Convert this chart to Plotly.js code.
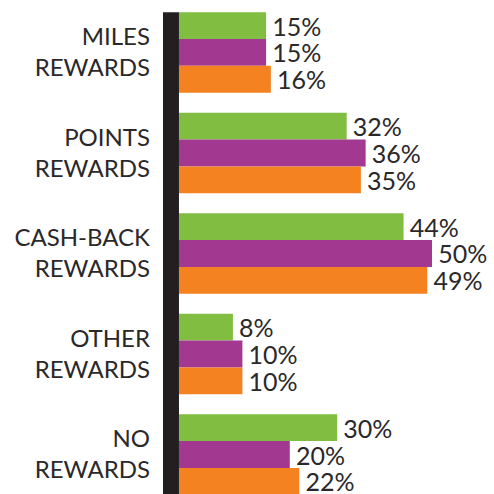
<!DOCTYPE html>
<html>
<head>
<meta charset="utf-8">
<script src="https://cdn.plot.ly/plotly-3.0.1.min.js"></script>
<style>html,body{margin:0;padding:0;background:#fff;}#chart{width:494px;height:494px;}</style>
</head>
<body>
<div id="chart"></div>
<script>
var categories = ["MILES<br>REWARDS", "POINTS<br>REWARDS", "CASH-BACK<br>REWARDS", "OTHER<br>REWARDS", "NO<br>REWARDS"];
var seriesGreen = [15, 32, 44, 8, 30];
var seriesPurple = [15, 36, 50, 10, 20];
var seriesOrange = [16, 35, 49, 10, 22];
var colors = ["#80bd41", "#a2388f", "#f48221"];

var BASE = -3.38;
function mk(vals, color) {
  return {
    type: "bar", orientation: "h",
    y: categories.map(function(c, i){ return i; }),
    x: vals.map(function(v){ return v - BASE; }),
    base: BASE,
    marker: {color: color, line: {width: 0}},
    text: vals.map(function(v){ return "\u2009" + v + "%"; }),
    textposition: "outside",
    constraintext: "none",
    cliponaxis: false,
    textfont: {family: "Lato, sans-serif", size: 25, color: "#2b2829"},
    hoverinfo: "none"
  };
}
var data = [mk(seriesGreen, colors[0]), mk(seriesPurple, colors[1]), mk(seriesOrange, colors[2])];

var layout = {
  width: 494, height: 494,
  margin: {l: 163, r: 0, t: 0, b: 0},
  paper_bgcolor: "#fff", plot_bgcolor: "#fff",
  barmode: "group", bargap: 0.2, bargroupgap: 0,
  showlegend: false,
  xaxis: {range: [-6.75, 63.08], visible: false, fixedrange: true},
  yaxis: {
    range: [4.393, -0.522],
    tickmode: "array",
    tickvals: categories.map(function(c, i){ return i; }),
    ticktext: categories,
    showgrid: false, zeroline: false, showline: false, ticks: "",
    ticklabelstandoff: 12,
    tickfont: {family: "Lato, sans-serif", size: 24, color: "#2b2829"}
  },
  shapes: [{
    type: "rect", xref: "x", yref: "y",
    x0: -6.75, x1: BASE, y0: -0.4, y1: 4.393,
    fillcolor: "#231f20", line: {width: 0}, layer: "above"
  }]
};
Plotly.newPlot("chart", data, layout, {staticPlot: true});
</script>
</body>
</html>
